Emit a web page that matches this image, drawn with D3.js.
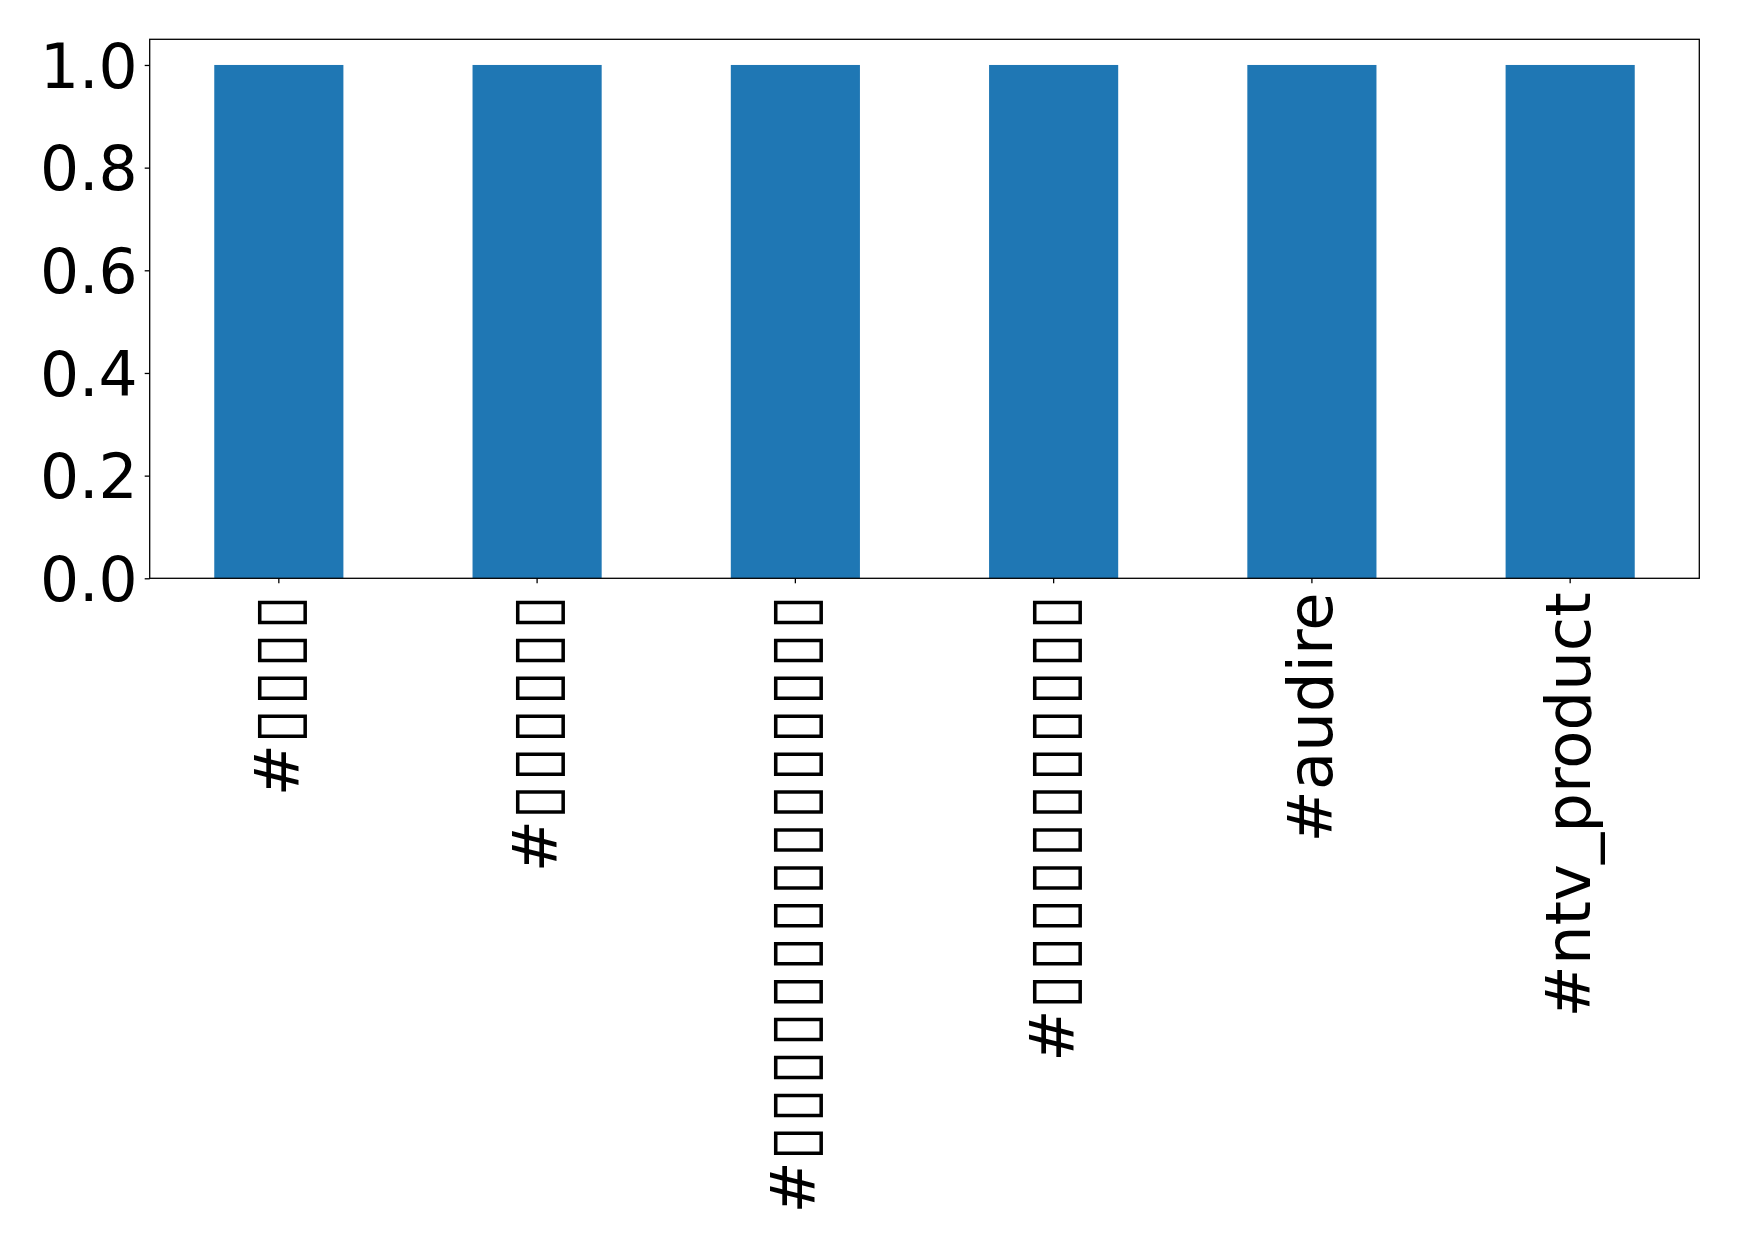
<!DOCTYPE html>
<html>
<head>
<meta charset="utf-8">
<script src="https://cdn.jsdelivr.net/npm/d3@7"></script>
<style>
  html, body { margin: 0; padding: 0; background: #ffffff; }
  svg { display: block; }
</style>
</head>
<body>
<script>
// Data (CJK glyphs in the reference render as missing-glyph boxes)
const categories = [
  "#\u25AF\u25AF\u25AF\u25AF",
  "#\u25AF\u25AF\u25AF\u25AF\u25AF\u25AF",
  "#\u25AF\u25AF\u25AF\u25AF\u25AF\u25AF\u25AF\u25AF\u25AF\u25AF\u25AF\u25AF\u25AF\u25AF\u25AF",
  "#\u25AF\u25AF\u25AF\u25AF\u25AF\u25AF\u25AF\u25AF\u25AF\u25AF\u25AF",
  "#audire",
  "#ntv_product"
];
const values = [1, 1, 1, 1, 1, 1];
const yTicks = [0, 0.2, 0.4, 0.6, 0.8, 1.0];

(function () {
const W = 1739, H = 1243;
const mLeft = 149.7, mRight = 1699.3, mTop = 39.3, mBottom = 578.3;
const yFontSize = 61.5;
const xFontSize = 62.5;
const font = "'DejaVu Sans', sans-serif";

const svg = d3.select("body").append("svg")
  .attr("width", W).attr("height", H)
  .attr("viewBox", `0 0 ${W} ${H}`);

svg.append("rect").attr("width", W).attr("height", H).attr("fill", "#fff");

const x = d3.scaleBand().domain(categories).range([mLeft, mRight])
  .paddingInner(0.5).paddingOuter(0.25);
const y = d3.scaleLinear().domain([0, 1.05]).range([mBottom, mTop]);

// bars
svg.append("g").selectAll("rect").data(values).join("rect")
  .attr("x", (d, i) => x(categories[i]))
  .attr("y", d => y(d))
  .attr("width", x.bandwidth())
  .attr("height", d => y(0) - y(d))
  .attr("fill", "#1f77b4");

// y axis
const yAxis = svg.append("g").attr("transform", `translate(${mLeft},0)`)
  .call(d3.axisLeft(y).tickValues(yTicks).tickFormat(d3.format(".1f"))
    .tickSize(5).tickPadding(7).tickSizeOuter(0));
yAxis.select(".domain").remove();
yAxis.selectAll(".tick line").attr("stroke", "#000").attr("stroke-width", 1.3);
yAxis.selectAll(".tick text")
  .attr("font-family", font).attr("font-size", yFontSize).attr("fill", "#000")
  .attr("dy", "0.36em");

// x axis
const xAxis = svg.append("g").attr("transform", `translate(0,${mBottom})`)
  .call(d3.axisBottom(x).tickSize(5).tickPadding(0).tickSizeOuter(0));
xAxis.select(".domain").remove();
xAxis.selectAll(".tick line").attr("stroke", "#000").attr("stroke-width", 1.3);
xAxis.selectAll(".tick text")
  .attr("font-family", font).attr("font-size", xFontSize).attr("fill", "#000")
  .attr("text-anchor", "end")
  .attr("transform", "translate(0,14) rotate(-90)")
  .attr("x", 0).attr("y", 0)
  .attr("dy", "0.32em")
  .each(function (d) {
    const t = d3.select(this);
    if (d.indexOf("\u25AF") >= 0) {
      t.text(null);
      t.append("tspan").text(d.slice(0, 1));
      t.append("tspan").attr("letter-spacing", 2.7).attr("font-size", 64)
        .text(d.slice(1));
    }
  });

// frame (spines)
svg.append("rect")
  .attr("x", mLeft).attr("y", mTop)
  .attr("width", mRight - mLeft).attr("height", mBottom - mTop)
  .attr("fill", "none").attr("stroke", "#000").attr("stroke-width", 1.3);
})();
</script>
</body>
</html>
